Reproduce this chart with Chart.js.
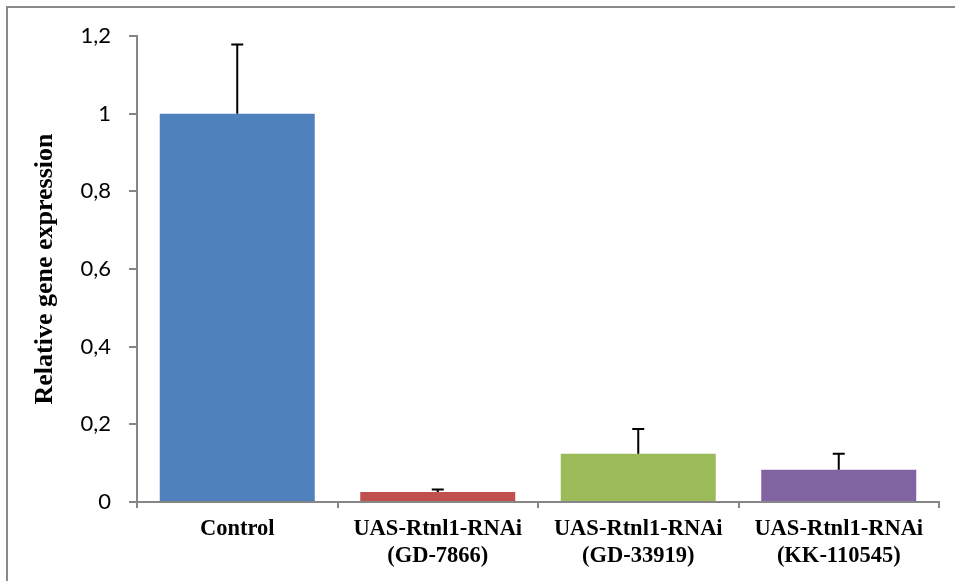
<!DOCTYPE html>
<html>
<head>
<meta charset="utf-8">
<script src="https://cdn.jsdelivr.net/npm/chart.js@4/dist/chart.umd.min.js"></script>
<style>
  html, body { margin: 0; padding: 0; background: #ffffff; }
  #wrap { width: 955px; height: 581px; position: relative; }
</style>
</head>
<body>
<div id="wrap"><canvas id="chart" width="955" height="581"></canvas></div>
<script>
// Relative expression of Rtnl1 after RNAi knock-down
const categories = [
  'Control',
  ['UAS-Rtnl1-RNAi', '(GD-7866)'],
  ['UAS-Rtnl1-RNAi', '(GD-33919)'],
  ['UAS-Rtnl1-RNAi', '(KK-110545)']
];
const expression = [1.0, 0.026, 0.124, 0.083];
const errorUp = [0.178, 0.006, 0.064, 0.041];
const barColors = ['#4F81BD', '#C0504D', '#9BBB59', '#8064A2'];
const yTickLabels = ['0', '0,2', '0,4', '0,6', '0,8', '1', '1,2'];

const axisGray = '#868686';

// Upward-only error bars drawn on top of each bar
const errorBars = {
  id: 'errorBars',
  afterDatasetsDraw(chart) {
    const ctx = chart.ctx;
    const meta = chart.getDatasetMeta(0);
    const y = chart.scales.y;
    ctx.save();
    ctx.strokeStyle = '#000000';
    ctx.lineWidth = 2;
    meta.data.forEach((bar, i) => {
      const top = y.getPixelForValue(expression[i] + errorUp[i]);
      const base = y.getPixelForValue(expression[i]);
      ctx.beginPath();
      ctx.moveTo(bar.x, base);
      ctx.lineTo(bar.x, top);
      ctx.moveTo(bar.x - 6, top);
      ctx.lineTo(bar.x + 6, top);
      ctx.stroke();
    });
    ctx.restore();
  }
};

// Gray frame along the left and top edges
const frame = {
  id: 'frame',
  beforeDraw(chart) {
    const ctx = chart.ctx;
    ctx.save();
    ctx.fillStyle = '#ffffff';
    ctx.fillRect(0, 0, chart.width, chart.height);
    ctx.strokeStyle = '#8a8a8a';
    ctx.lineWidth = 2;
    ctx.beginPath();
    ctx.moveTo(7, chart.height);
    ctx.lineTo(7, 7);
    ctx.lineTo(chart.width, 7);
    ctx.stroke();
    ctx.restore();
  }
};

new Chart(document.getElementById('chart'), {
  type: 'bar',
  data: {
    labels: categories,
    datasets: [{
      data: expression,
      backgroundColor: barColors,
      borderWidth: 0,
      categoryPercentage: 1.0,
      barPercentage: 0.773
    }]
  },
  options: {
    responsive: false,
    animation: false,
    devicePixelRatio: 1,
    layout: { padding: { left: 0, right: 16, top: 36, bottom: 0 } },
    plugins: {
      legend: { display: false },
      tooltip: { enabled: false }
    },
    scales: {
      x: {
        offset: true,
        grid: {
          display: true,
          offset: true,
          drawOnChartArea: false,
          drawTicks: true,
          tickLength: 6,
          color: axisGray,
          lineWidth: 2
        },
        border: { display: true, color: axisGray, width: 2 },
        ticks: {
          color: '#000000',
          padding: 8,
          maxRotation: 0,
          autoSkip: false,
          font: { family: '"Liberation Serif", "Times New Roman", serif', size: 22.5, weight: 'bold', lineHeight: 1.2 }
        },
        afterFit(scale) { scale.height = 79; }
      },
      y: {
        min: 0,
        max: 1.2,
        ticks: {
          stepSize: 0.2,
          color: '#000000',
          padding: 18,
          font: { family: 'Lato, "Open Sans", sans-serif', size: 22 },
          callback: (value, index) => yTickLabels[index]
        },
        grid: {
          display: true,
          drawOnChartArea: false,
          drawTicks: true,
          tickLength: 8,
          color: axisGray,
          lineWidth: 2
        },
        border: { display: true, color: axisGray, width: 2 },
        title: {
          display: true,
          text: 'Relative gene expression',
          color: '#000000',
          padding: { top: 30, bottom: 0 },
          font: { family: '"Liberation Serif", "Times New Roman", serif', size: 26, weight: 'bold', lineHeight: 1.2 }
        },
        afterFit(scale) { scale.width = 137; }
      }
    }
  },
  plugins: [frame, errorBars]
});
</script>
</body>
</html>
